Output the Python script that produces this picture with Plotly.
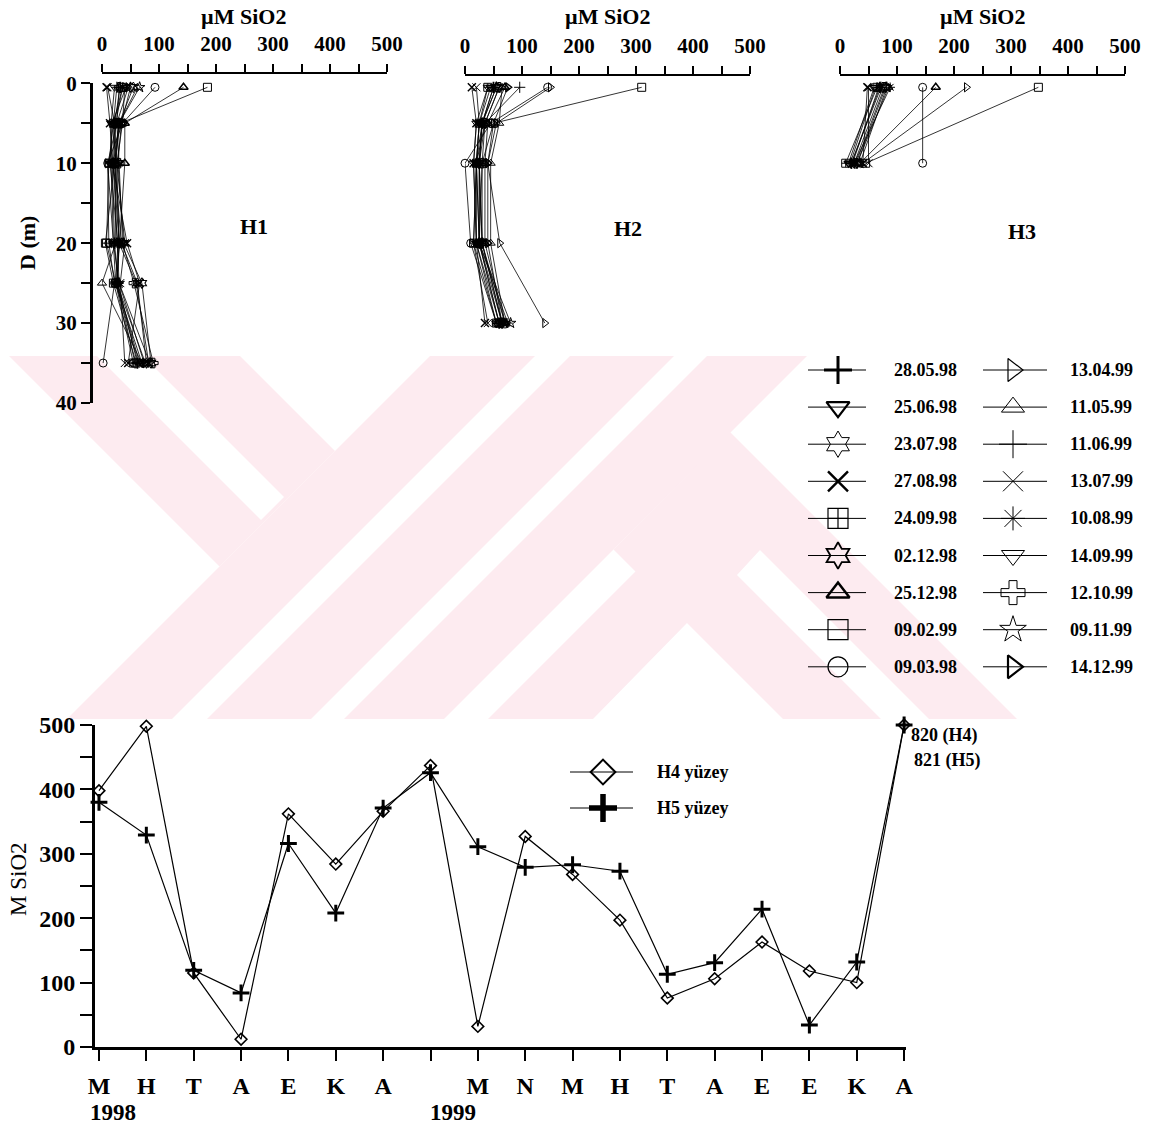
import plotly.graph_objects as go

W, H = 1158, 1125
FONT = "Liberation Serif"

# ---------------- data ----------------
DATES = ["28.05.98", "25.06.98", "23.07.98", "27.08.98", "24.09.98", "02.12.98",
         "25.12.98", "09.02.99", "09.03.98", "13.04.99", "11.05.99", "11.06.99",
         "13.07.99", "10.08.99", "14.09.99", "12.10.99", "09.11.99", "14.12.99"]

DEPTH_H1 = [0.5, 5, 10, 20, 25, 35]
DEPTH_H2 = [0.5, 5, 10, 20, 30]
DEPTH_H3 = [0.5, 10]

# µM SiO2 per sampling date (rows follow DATES, columns follow the depth lists)
H1_SIO2 = [
    [32, 22, 18, 22, 28, 62], [42, 18, 14, 28, 24, 70], [55, 30, 22, 34, 62, 78],
    [8, 14, 18, 44, 66, 46], [36, 20, 12, 8, 24, 55], [50, 34, 28, 38, 70, 86],
    [143, 40, 40, 30, 26, 66], [185, 32, 22, 6, 20, 60], [93, 36, 10, 12, 22, 2],
    [46, 26, 10, 20, 30, 74], [62, 30, 24, 24, 0, 70], [26, 20, 24, 30, 26, 58],
    [10, 22, 26, 40, 32, 40], [36, 24, 20, 30, 60, 82], [22, 16, 16, 20, 24, 64],
    [30, 26, 30, 36, 56, 90], [66, 30, 20, 26, 30, 84], [40, 36, 26, 30, 26, 76],
]
H2_SIO2 = [
    [50, 30, 25, 25, 60], [45, 25, 20, 20, 55], [60, 35, 20, 25, 65],
    [12, 20, 15, 20, 35], [40, 25, 20, 15, 55], [55, 30, 25, 30, 65],
    [70, 40, 35, 35, 70], [310, 50, 30, 25, 60], [145, 45, 0, 10, 55],
    [150, 55, 40, 61, 140], [65, 60, 45, 45, 70], [96, 35, 25, 30, 65],
    [20, 25, 20, 15, 40], [50, 30, 25, 25, 75], [40, 20, 15, 20, 60],
    [60, 35, 30, 30, 70], [55, 30, 20, 25, 80], [75, 50, 40, 40, 65],
]
H3_SIO2 = [
    [70, 20], [60, 15], [75, 25], [48, 40], [65, 10], [80, 30],
    [168, 35], [348, 45], [145, 145], [222, 40], [85, 30], [72, 20],
    [50, 50], [88, 25], [62, 18], [78, 28], [82, 35], [68, 22],
]

MONTHS = ["M", "H", "T", "A", "E", "K", "A", "", "M", "N", "M", "H", "T", "A", "E", "E", "K", "A"]
H4_SURFACE = [398, 498, 115, 12, 362, 284, 366, 437, 32, 327, 268, 197, 76, 106, 163, 118, 100, 820]
H5_SURFACE = [380, 329, 119, 84, 316, 208, 371, 426, 311, 279, 283, 273, 113, 131, 214, 34, 132, 821]
YEAR_LABELS = ["1998", "1999"]
YEAR_START_INDEX = [0, 7]
Y_CAP = 500  # top of the surface axis; larger values are pinned there and labelled

# ---------------- styles ----------------
SYMBOLS = [
    ("cross-thin-open", 3.0), ("triangle-down-open", 2.2), ("hexagram-open", 1.0),
    ("x-thin-open", 2.4), ("square-cross-open", 1.2), ("hexagram-open", 1.8),
    ("triangle-up-open", 2.5), ("square-open", 1.2), ("circle-open", 1.2),
    ("triangle-right-open", 1.2), ("triangle-up-open", 1.0), ("cross-thin-open", 1.0),
    ("x-thin-open", 1.0), ("asterisk-open", 1.0), ("triangle-down-open", 1.0),
    ("cross-open", 1.0), ("star-open", 1.0), ("triangle-right-open", 2.2),
]


def px(x):
    return x / W


def py(y):
    return 1 - y / H


fig = go.Figure()

# ---------------- depth profiles ----------------
stations = [("x", "y", DEPTH_H1, H1_SIO2), ("x2", "y2", DEPTH_H2, H2_SIO2), ("x3", "y3", DEPTH_H3, H3_SIO2)]
for xa, ya, depths, table in stations:
    for i, row in enumerate(table):
        sym, lw = SYMBOLS[i]
        fig.add_trace(go.Scatter(
            x=row, y=depths, mode="lines+markers", xaxis=xa, yaxis=ya,
            line=dict(color="black", width=0.8),
            marker=dict(symbol=sym, size=8, color="black", line=dict(color="black", width=max(1.0, lw * 0.6))),
            cliponaxis=False, showlegend=False, hoverinfo="skip"))

# ---------------- surface time series ----------------
idx = list(range(len(MONTHS)))
h4_plot = [min(v, Y_CAP) for v in H4_SURFACE]
h5_plot = [min(v, Y_CAP) for v in H5_SURFACE]
fig.add_trace(go.Scatter(
    x=idx, y=h4_plot, mode="lines+markers", xaxis="x4", yaxis="y4",
    line=dict(color="black", width=1.2),
    marker=dict(symbol="diamond-open", size=9, color="black", line=dict(width=1.6)),
    cliponaxis=False, showlegend=False, hoverinfo="skip"))
fig.add_trace(go.Scatter(
    x=idx, y=h5_plot, mode="lines+markers", xaxis="x4", yaxis="y4",
    line=dict(color="black", width=1.2),
    marker=dict(symbol="cross-thin-open", size=12, color="black", line=dict(width=3)),
    cliponaxis=False, showlegend=False, hoverinfo="skip"))

# ---------------- legend glyphs (pixel overlay) ----------------
ann = []


def glyph(x0, x1, xc, y, sym, size, lw, line_w=1.0):
    fig.add_trace(go.Scatter(x=[x0, x1], y=[y, y], mode="lines", xaxis="x5", yaxis="y5",
                             line=dict(color="black", width=line_w), showlegend=False, hoverinfo="skip"))
    fig.add_trace(go.Scatter(x=[xc], y=[y], mode="markers", xaxis="x5", yaxis="y5",
                             marker=dict(symbol=sym, size=size, color="black", line=dict(color="black", width=lw)),
                             showlegend=False, hoverinfo="skip"))


for i, d in enumerate(DATES):
    col, row = divmod(i, 9)
    y = 370 + row * 37.1
    if col == 0:
        x0, x1, xc, xt = 808, 866, 838, 892
    else:
        x0, x1, xc, xt = 983, 1047, 1013, 1068
    sym, lw = SYMBOLS[i]
    glyph(x0, x1, xc, y, sym, 20, lw)
    ann.append(dict(x=xt, y=y, xref="x5", yref="y5", text=d, showarrow=False, xanchor="left",
                    yanchor="middle", font=dict(family=FONT, size=18, color="black", weight="bold")))

glyph(570, 633, 603, 772, "diamond-open", 19, 2.0)
glyph(570, 633, 603, 808, "cross-thin-open", 20, 5.5)
for text, y in [("H4 yüzey", 772), ("H5 yüzey", 808)]:
    ann.append(dict(x=655, y=y, xref="x5", yref="y5", text=text, showarrow=False, xanchor="left",
                    font=dict(family=FONT, size=18, color="black", weight="bold")))

# off-scale values at the last month
ann.append(dict(x=17, y=Y_CAP, xref="x4", yref="y4", text=f"{H4_SURFACE[-1]} (H4)", showarrow=False,
                xanchor="left", yanchor="middle", xshift=5, yshift=-10,
                font=dict(family=FONT, size=18, color="black", weight="bold")))
ann.append(dict(x=17, y=Y_CAP, xref="x4", yref="y4", text=f"{H5_SURFACE[-1]} (H5)", showarrow=False,
                xanchor="left", yanchor="middle", xshift=8, yshift=-35,
                font=dict(family=FONT, size=18, color="black", weight="bold")))

# years under the month axis
for label, i0 in zip(YEAR_LABELS, YEAR_START_INDEX):
    ann.append(dict(x=i0, y=1112, xref="x4", yref="y5", text=label, showarrow=False, xanchor="left",
                    xshift=-11 if i0 == 0 else -3,
                    font=dict(family=FONT, size=23, color="black", weight="bold")))

# titles and station names
for xc in (243, 607, 982):
    ann.append(dict(x=xc, y=16, xref="x5", yref="y5", text="µM SiO2", showarrow=False,
                    font=dict(family=FONT, size=22, color="black", weight="bold")))
ann.append(dict(x=27, y=243, xref="x5", yref="y5", text="D (m)", showarrow=False, textangle=-90,
                font=dict(family=FONT, size=22, color="black", weight="bold")))
for name, xc, yc in [("H1", 254, 226), ("H2", 628, 228), ("H3", 1022, 231)]:
    ann.append(dict(x=xc, y=yc, xref="x5", yref="y5", text=name, showarrow=False,
                    font=dict(family=FONT, size=22, color="black", weight="bold")))
ann.append(dict(x=18, y=879, xref="x5", yref="y5", text="M SiO2", showarrow=False, textangle=-90,
                font=dict(family=FONT, size=23, color="black")))

# ---------------- background watermark ----------------
PINK = "rgb(253,235,240)"


def poly(points, color):
    path = "M " + " L ".join(f"{px(x):.5f},{py(y):.5f}" for x, y in points) + " Z"
    return dict(type="path", path=path, xref="paper", yref="paper", fillcolor=color,
                line=dict(width=0), layer="below")


shapes = [
    poly([(9, 356), (240, 356), (335, 451), (219.5, 566.5)], PINK),
    poly([(97, 356), (143, 356), (284, 497), (261, 520)], "white"),
    poly([(430, 356), (535, 356), (172, 719), (67, 719)], PINK),
    poly([(570, 356), (674, 356), (311, 719), (207, 719)], PINK),
    poly([(707, 356), (807, 356), (444, 719), (344, 719)], PINK),
    poly([(730, 432), (1017, 719), (929, 719), (760, 550), (737, 575), (881, 719), (783, 719),
          (687, 623), (593, 719), (488, 719), (635.5, 571.5), (613.5, 549.5)], PINK),
]

# ---------------- axes ----------------
tick_font = dict(family=FONT, size=21, color="black", weight="bold")
xt_vals = list(range(0, 501, 50))
xt_text = [str(v) if v % 100 == 0 else "" for v in xt_vals]


def top_xaxis(x0, x1, yline):
    return dict(domain=[px(x0), px(x1)], range=[0, 500], anchor="free", position=py(yline), side="top",
                showline=True, linecolor="black", linewidth=2, ticks="outside", ticklen=8, tickwidth=2,
                tickcolor="black", tickvals=xt_vals, ticktext=xt_text, tickfont=tick_font,
                ticklabelstandoff=5, showgrid=False, zeroline=False, fixedrange=True, automargin=False)


ydom = [py(403), py(83.3)]
hidden_y = dict(domain=ydom, range=[40, 0], visible=False, showgrid=False, zeroline=False,
                fixedrange=True, automargin=False)

fig.update_layout(
    width=W, height=H, autosize=False, margin=dict(l=0, r=0, t=0, b=0, pad=0, autoexpand=False),
    paper_bgcolor="white", plot_bgcolor="rgba(0,0,0,0)", showlegend=False,
    font=dict(family=FONT, color="black"),
    xaxis=top_xaxis(102, 387, 73),
    xaxis2=top_xaxis(465, 750, 75),
    xaxis3=top_xaxis(840, 1125, 75),
    yaxis=dict(domain=ydom, range=[40, 0], anchor="free", position=px(91),
               showline=True, linecolor="black", linewidth=3, ticks="outside", ticklen=9, tickwidth=2,
               tickcolor="black", tickvals=list(range(0, 41, 5)),
               ticktext=[str(v) if v % 10 == 0 else "" for v in range(0, 41, 5)],
               tickfont=tick_font, showgrid=False, zeroline=False, fixedrange=True, automargin=False),
    yaxis2=dict(hidden_y, anchor="x2"),
    yaxis3=dict(hidden_y, anchor="x3"),
    xaxis4=dict(domain=[px(95), px(906)], range=[-0.084, 17.04], anchor="y4",
                showline=True, linecolor="black", linewidth=2.5, ticks="outside", ticklen=11, tickwidth=2,
                tickcolor="black", tickvals=idx, ticktext=MONTHS,
                tickfont=dict(family=FONT, size=24, color="black", weight="bold"),
                ticklabelstandoff=4, showgrid=False, zeroline=False, fixedrange=True, automargin=False),
    yaxis4=dict(domain=[py(1047), py(725)], range=[0, Y_CAP], anchor="x4",
                showline=True, linecolor="black", linewidth=3, ticks="outside", ticklen=12, tickwidth=2,
                tickcolor="black", tickvals=list(range(0, 501, 50)),
                ticktext=[str(v) if v % 100 == 0 else "" for v in range(0, 501, 50)],
                tickfont=dict(family=FONT, size=24, color="black", weight="bold"),
                showgrid=False, zeroline=False, fixedrange=True, automargin=False),
    xaxis5=dict(domain=[0, 1], range=[0, W], anchor="y5", visible=False, fixedrange=True, automargin=False),
    yaxis5=dict(domain=[0, 1], range=[H, 0], anchor="x5", visible=False, fixedrange=True, automargin=False),
    annotations=ann,
    shapes=shapes,
)

fig.write_html("out.html")
